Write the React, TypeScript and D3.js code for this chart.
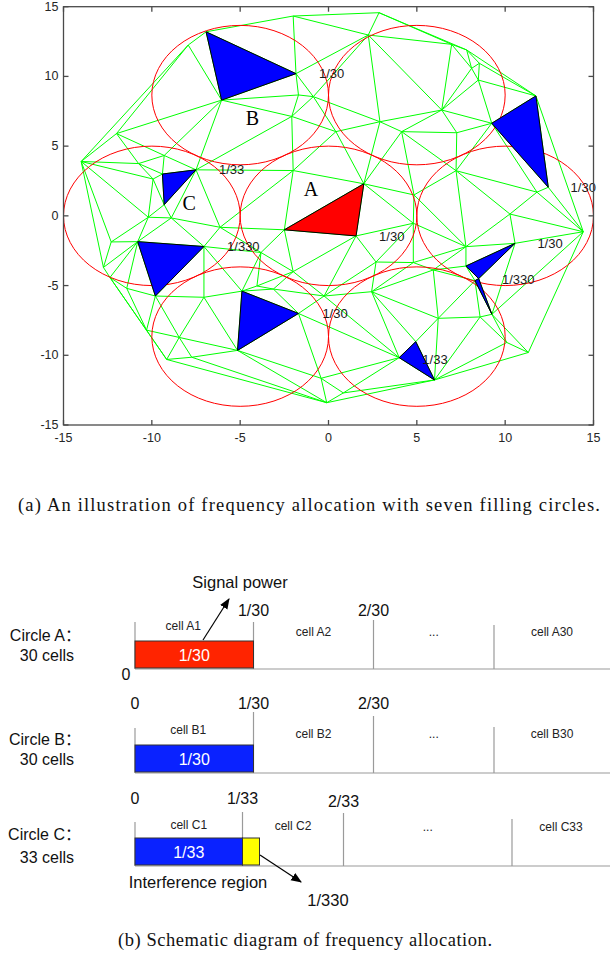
import React from 'react';
import * as d3 from 'd3';

// ---- Panel (a): triangulated region with seven filling circles ----
const meshPoints: [number, number][] = [
  [-14.0, 3.9], [-12.0, 5.9], [-7.94, 12.25], [-2.0, 14.33], [-1.7, 8.67],
  [-2.08, 7.13], [-2.0, 3.25], [-9.3, 4.33], [-10.75, 3.75], [-9.93, 2.64],
  [-10.2, -0.1], [-8.9, -0.15], [-6.14, -0.82], [-12.3, -1.87], [-12.74, -3.7],
  [-12.37, -4.42], [-11.42, -5.2], [-7.05, -5.84], [-10.3, -8.2], [-9.16, -10.3],
  [-8.45, -8.72], [-7.74, -10.14], [-3.82, -2.63], [-4.05, -5.03], [-3.12, -5.25],
  [-2.0, -4.0], [-0.25, -5.75], [2.44, -5.44], [-0.42, -11.65], [-0.1, -13.4],
  [0.84, -12.7], [6.21, -7.35], [2.69, -3.31], [4.8, -3.35], [5.93, -3.88],
  [7.78, -2.21], [10.27, 0.13], [14.42, -1.14], [8.58, -7.25], [10.09, -9.08],
  [11.31, -9.8], [4.84, 1.5], [4.8, -0.53], [7.22, 3.24], [7.26, 5.96],
  [6.41, 7.59], [2.91, 6.75], [4.14, 6.04], [0.42, 6.04], [-0.86, 8.55],
  [2.25, 12.97], [2.86, 14.57], [6.97, 12.3], [7.82, 11.9], [8.54, 10.94],
  [8.1, 10.58], [8.48, 9.74], [11.8, 1.7],
];

const blueTriangles: [number, number][][] = [
  [[-6.93, 13.2], [-1.84, 10.2], [-6.05, 8.3]],
  [[-9.4, 3.0], [-7.5, 3.3], [-9.3, 0.8]],
  [[-10.8, -1.85], [-7.05, -2.2], [-9.8, -5.75]],
  [[-4.9, -5.4], [-1.7, -7.0], [-5.15, -9.65]],
  [[9.24, 6.64], [11.74, 8.6], [12.44, 2.05]],
  [[7.78, -3.6], [10.56, -1.97], [8.5, -4.5]],
  [[8.29, -4.65], [8.5, -4.5], [9.25, -7.06]],
  [[4.94, -9.02], [4.0, -10.17], [6.0, -11.77]],
];

const redTriangle: [number, number][] = [[-2.5, -1.0], [2.0, 2.3], [1.56, -1.44]];

const circleCenters: [number, number][] = [
  [0, 0], [-10, 0], [10, 0], [-5, 8.66], [5, 8.66], [-5, -8.66], [5, -8.66],
];
const circleRadius = 5;

const axisTicks = [-15, -10, -5, 0, 5, 10, 15];

const shareLabels = ['1/30', '1/33', '1/30', '1/30', '1/330', '1/30', '1/330', '1/30', '1/33'];
const shareAnchors: [number, number][] = [
  [0.18, 10.21], [-5.48, 3.29], [14.42, 2.05], [3.58, -1.49], [-4.82, -2.21],
  [12.54, -1.97], [10.74, -4.6], [0.37, -6.99], [6.03, -10.29],
];

const circleNames = ['A', 'B', 'C'];
const circleNameAnchors: [number, number][] = [[-0.99, 1.93], [-4.31, 7.0], [-7.88, 0.94]];

// ---- Panel (b): frequency allocation schematic ----
const rowTitles = ['Circle A：', 'Circle B：', 'Circle C：'];
const rowCounts = ['30 cells', '30 cells', '33 cells'];
const rowCells = [
  ['cell A1', 'cell A2', '...', 'cell A30'],
  ['cell B1', 'cell B2', '...', 'cell B30'],
  ['cell C1', 'cell C2', '...', 'cell C33'],
];
const rowDividers = [
  [0, 1 / 30, 2 / 30, 29 / 30],
  [0, 1 / 30, 2 / 30, 29 / 30],
  [0, 1 / 33, 2 / 33, 32 / 33],
];
const rowTickValues = [[1 / 30, 2 / 30], [0, 1 / 30, 2 / 30], [0, 1 / 33, 2 / 33]];
const rowTickLabels = [['1/30', '2/30'], ['0', '1/30', '2/30'], ['0', '1/33', '2/33']];
const signalShare = [1 / 30, 1 / 30, 1 / 33];
const signalText = ['1/30', '1/30', '1/33'];
const interferenceShare = 1 / 330;

// layout constants for the schematic
const baselineY = [669, 773, 866];
const dividerRise = [[47, 47, 49, 44], [45, 61, 57, 46], [44, 54, 53, 47]];
const tickLabelY = [610, 703, 798];
const cellLabelY = [[626, 632, 632, 632], [730, 734, 734, 734], [825, 826, 827, 827]];
const firstCellShift = [-11, -6, 0];

const SANS = "'Liberation Sans', Arial, Helvetica, 'Noto Sans CJK SC', sans-serif";
const SERIF = "'Liberation Serif', 'Times New Roman', serif";

function uniquePoints(list: [number, number][]) {
  const seen = new Set<string>();
  const out: [number, number][] = [];
  for (const p of list) {
    const k = p[0] + ',' + p[1];
    if (!seen.has(k)) {
      seen.add(k);
      out.push(p);
    }
  }
  return out;
}

export default function App() {
  const x = d3.scaleLinear().domain([-15, 15]).range([63.5, 593.5]);
  const y = d3.scaleLinear().domain([-15, 15]).range([425, 6.7]);

  const pts = uniquePoints([...meshPoints, ...blueTriangles.flat(), ...redTriangle]);
  const del = d3.Delaunay.from(pts, (p) => p[0], (p) => p[1]);
  const { triangles, halfedges } = del;
  let meshPath = '';
  for (let e = 0; e < triangles.length; e++) {
    if (e > halfedges[e]) {
      const a = pts[triangles[e]];
      const b = pts[triangles[e % 3 === 2 ? e - 2 : e + 1]];
      meshPath += `M${x(a[0])},${y(a[1])}L${x(b[0])},${y(b[1])}`;
    }
  }

  const triLine = d3
    .line<[number, number]>()
    .x((d) => x(d[0]))
    .y((d) => y(d[1]));

  const rx = x(circleRadius) - x(0);
  const ry = y(0) - y(circleRadius);

  const x0 = x(-15), x1 = x(15), yTop = y(15), yBot = y(-15);

  // frequency scales for the schematic rows (the "..." gap is compressed)
  const freqAB = d3.scaleLinear().domain([0, 1 / 30, 2 / 30, 29 / 30, 1]).range([135, 253.5, 373.5, 494, 610]);
  const freqC = d3
    .scaleLinear()
    .domain([0, 1 / 33, 1 / 33 + interferenceShare, 2 / 33, 32 / 33, 1])
    .range([135, 242.5, 259.5, 343.5, 512, 610]);
  const rowScales = [freqAB, freqAB, freqC];
  const barColors = ['#ff2400', '#0a22ff', '#0a22ff'];

  return (
    <svg
      width={610}
      height={960}
      viewBox="0 0 610 960"
      style={{ position: 'absolute', left: 0, top: 0, background: '#fff' }}
    >
      <defs>
        <marker id="arrowHead" viewBox="0 0 10 10" refX="9" refY="5" markerWidth="9" markerHeight="9" orient="auto">
          <path d="M0,1 L10,5 L0,9 Z" fill="#000" />
        </marker>
      </defs>
      <rect x={0} y={0} width={610} height={960} fill="#fff" />

      {/* panel (a) */}
      <path d={meshPath} stroke="#00ff00" strokeWidth={1} fill="none" />
      {circleCenters.map((c, i) => (
        <ellipse key={i} cx={x(c[0])} cy={y(c[1])} rx={rx} ry={ry} fill="none" stroke="#ff0000" strokeWidth={1} />
      ))}
      {blueTriangles.map((t, i) => (
        <path key={i} d={triLine(t) + 'Z'} fill="#0000ff" stroke="#000" strokeWidth={1} />
      ))}
      <path d={triLine(redTriangle) + 'Z'} fill="#ff0000" stroke="#000" strokeWidth={1} />

      {shareLabels.map((s, i) => (
        <text
          key={i}
          x={x(shareAnchors[i][0])}
          y={y(shareAnchors[i][1])}
          textAnchor="middle"
          dominantBaseline="central"
          fontFamily={SANS}
          fontSize={13}
          fill="#1a1a1a"
        >
          {s}
        </text>
      ))}
      {circleNames.map((s, i) => (
        <text
          key={s}
          x={x(circleNameAnchors[i][0])}
          y={y(circleNameAnchors[i][1])}
          textAnchor="middle"
          dominantBaseline="central"
          fontFamily={SERIF}
          fontSize={20}
          fill="#000"
        >
          {s}
        </text>
      ))}

      {/* axes box with inward ticks */}
      <rect x={x0} y={yTop} width={x1 - x0} height={yBot - yTop} fill="none" stroke="#4a4a4a" strokeWidth={1.3} />
      {axisTicks.map((v) => (
        <g key={v} stroke="#4a4a4a" strokeWidth={1.3}>
          <line x1={x(v)} x2={x(v)} y1={yBot} y2={yBot - 5} />
          <line x1={x(v)} x2={x(v)} y1={yTop} y2={yTop + 5} />
          <line x1={x0} x2={x0 + 5} y1={y(v)} y2={y(v)} />
          <line x1={x1} x2={x1 - 5} y1={y(v)} y2={y(v)} />
        </g>
      ))}
      {axisTicks.map((v) => (
        <text key={'xt' + v} x={x(v)} y={yBot + 13} textAnchor="middle" dominantBaseline="central" fontFamily={SANS} fontSize={12.5} fill="#262626">
          {v}
        </text>
      ))}
      {axisTicks.map((v) => (
        <text key={'yt' + v} x={x0 - 5} y={y(v)} textAnchor="end" dominantBaseline="central" fontFamily={SANS} fontSize={12.5} fill="#262626">
          {v}
        </text>
      ))}

      <text x={309} y={505} textAnchor="middle" dominantBaseline="central" fontFamily={SERIF} fontSize={18.5} textLength={582} lengthAdjust="spacing" fill="#111">
        (a) An illustration of frequency allocation with seven filling circles.
      </text>

      {/* panel (b) */}
      {rowTitles.map((title, r) => {
        const sc = rowScales[r];
        const base = baselineY[r];
        const barTop = base - 28;
        const divs = rowDividers[r];
        return (
          <g key={r}>
            <text x={81} y={base - (r === 2 ? 32 : 34)} textAnchor="end" dominantBaseline="central" fontFamily={SANS} fontSize={16} fill="#111">
              {title}
            </text>
            <text x={74} y={base - (r === 2 ? 9 : 14)} textAnchor="end" dominantBaseline="central" fontFamily={SANS} fontSize={16} fill="#111">
              {rowCounts[r]}
            </text>
            <line x1={sc(0)} x2={610} y1={base} y2={base} stroke="#9a9a9a" strokeWidth={1.2} />
            {divs.map((d, k) => (
              <line key={k} x1={sc(d)} x2={sc(d)} y1={base} y2={base - dividerRise[r][k]} stroke="#9a9a9a" strokeWidth={1.2} />
            ))}
            {rowCells[r].map((c, k) => {
              const left = sc(divs[k]);
              const right = k + 1 < divs.length ? sc(divs[k + 1]) : 610;
              return (
                <text
                  key={c}
                  x={(left + right) / 2 + (k === 0 ? firstCellShift[r] : 0)}
                  y={cellLabelY[r][k]}
                  textAnchor="middle"
                  dominantBaseline="central"
                  fontFamily={SANS}
                  fontSize={12}
                  fill="#222"
                >
                  {c}
                </text>
              );
            })}
            {rowTickValues[r].map((v, k) => (
              <text key={k} x={sc(v)} y={tickLabelY[r] + (r === 2 && k === 2 ? 3 : 0)} textAnchor="middle" dominantBaseline="central" fontFamily={SANS} fontSize={16} fill="#111">
                {rowTickLabels[r][k]}
              </text>
            ))}
            <rect x={sc(0)} y={barTop} width={sc(signalShare[r]) - sc(0)} height={27} fill={barColors[r]} stroke="#333" strokeWidth={1} />
            <text x={(sc(0) + sc(signalShare[r])) / 2} y={barTop + 14} textAnchor="middle" dominantBaseline="central" fontFamily={SANS} fontSize={16} fill="#fff">
              {signalText[r]}
            </text>
            {r === 2 && (
              <rect
                x={sc(signalShare[r])}
                y={barTop}
                width={sc(signalShare[r] + interferenceShare) - sc(signalShare[r])}
                height={27}
                fill="#ffff00"
                stroke="#333"
                strokeWidth={1}
              />
            )}
          </g>
        );
      })}

      <text x={126} y={674} textAnchor="middle" dominantBaseline="central" fontFamily={SANS} fontSize={16} fill="#111">
        0
      </text>
      <line x1={203} y1={640} x2={229} y2={599} stroke="#000" strokeWidth={1.2} markerEnd="url(#arrowHead)" />
      <text x={240} y={582} textAnchor="middle" dominantBaseline="central" fontFamily={SANS} fontSize={16.5} fill="#111">
        Signal power
      </text>

      <line x1={260} y1={855} x2={301} y2={882} stroke="#000" strokeWidth={1.2} markerEnd="url(#arrowHead)" />
      <text x={198} y={882} textAnchor="middle" dominantBaseline="central" fontFamily={SANS} fontSize={16.5} fill="#111">
        Interference region
      </text>
      <text x={328} y={900} textAnchor="middle" dominantBaseline="central" fontFamily={SANS} fontSize={16.5} fill="#111">
        1/330
      </text>

      <text x={305} y={940} textAnchor="middle" dominantBaseline="central" fontFamily={SERIF} fontSize={18.5} textLength={374} lengthAdjust="spacing" fill="#111">
        (b) Schematic diagram of frequency allocation.
      </text>
    </svg>
  );
}
